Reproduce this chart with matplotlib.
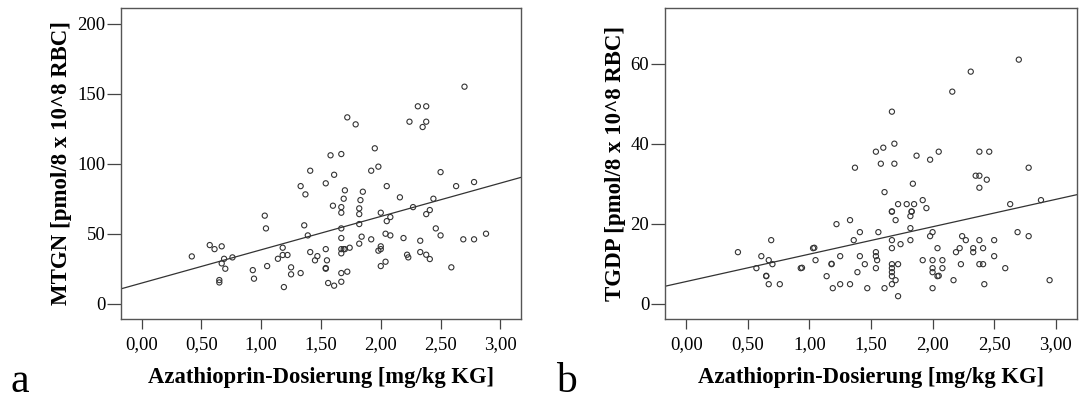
import numpy as np
import matplotlib
matplotlib.use("Agg")
import matplotlib.pyplot as plt
from matplotlib.ticker import FuncFormatter

plt.rcParams['font.family'] = ['Liberation Serif', 'DejaVu Serif']

# dose [mg/kg KG] vs MTGN (panel a)
dose_a = [0.42, 0.57, 0.61, 0.67, 0.69, 0.67, 0.70, 0.76, 0.65, 0.65,
          0.93, 0.94, 1.03, 1.04, 1.05, 1.14, 1.18, 1.18, 1.22, 1.25,
          1.25, 1.19, 1.33, 1.33, 1.37, 1.41, 1.36, 1.39, 1.41, 1.45,
          1.47, 1.54, 1.58, 1.67, 1.61, 1.60, 1.54, 1.55, 1.54, 1.54,
          1.56, 1.61, 1.67, 1.67, 1.67, 1.67, 1.67, 1.69, 1.70, 1.67,
          1.74, 1.67, 1.72, 1.67, 1.70, 1.69, 1.85, 1.83, 1.82, 1.82,
          1.82, 1.84, 1.82, 1.92, 1.95, 1.98, 1.92, 2.00, 1.98, 2.00,
          2.00, 2.00, 2.04, 2.05, 2.05, 2.08, 2.04, 2.08, 2.16, 2.19,
          2.22, 2.23, 2.27, 2.33, 2.33, 2.38, 2.41, 2.38, 2.41, 2.44,
          2.46, 2.50, 2.50, 2.59, 2.63, 2.69, 2.78, 2.78, 2.88,
          1.72, 1.79, 2.31, 2.38, 2.24, 2.38, 2.35, 2.70]
mtgn = [33.8, 41.9, 39.0, 41.0, 32.1, 28.8, 25.0, 33.1, 16.9, 15.2,
        24.0, 17.9, 62.9, 53.8, 26.9, 32.1, 40.0, 34.8, 34.8, 26.0,
        21.0, 11.9, 21.9, 84.0, 78.1, 95.0, 56.0, 48.8, 36.9, 31.0,
        34.0, 86.0, 106.0, 106.9, 92.1, 70.0, 39.0, 31.0, 25.0, 25.5,
        14.8, 12.9, 69.0, 65.0, 53.8, 46.9, 39.0, 39.0, 39.0, 36.0,
        40.0, 21.9, 22.9, 15.7, 81.0, 75.0, 80.0, 74.0, 68.1, 64.0,
        56.9, 47.9, 42.9, 95.0, 111.0, 97.9, 46.0, 65.0, 37.9, 41.0,
        39.0, 26.9, 30.0, 84.0, 59.0, 61.9, 50.0, 48.8, 76.0, 46.9,
        35.0, 33.1, 69.0, 45.0, 36.9, 35.0, 31.9, 64.0, 66.9, 75.0,
        53.8, 48.8, 94.0, 26.0, 84.0, 46.0, 86.9, 46.0, 50.0,
        133.1, 128.1, 141.0, 141.0, 130.0, 130.0, 126.2, 155.0]

# dose [mg/kg KG] vs TGDP (panel b)
dose_b = [0.42, 0.57, 0.61, 0.67, 0.70, 0.69, 0.65, 0.65, 0.67, 0.76,
          0.93, 0.94, 1.03, 1.04, 1.05, 1.14, 1.18, 1.18, 1.19, 1.22,
          1.25, 1.25, 1.33, 1.33, 1.37, 1.36, 1.41, 1.41, 1.39, 1.45,
          1.47, 1.54, 1.60, 1.58, 1.69, 1.69, 1.61, 1.56, 1.54, 1.54,
          1.55, 1.54, 1.61, 1.67, 1.67, 1.70, 1.67, 1.67, 1.67, 1.67,
          1.67, 1.67, 1.72, 1.70, 1.67, 1.72, 1.74, 1.72, 1.79, 1.85,
          1.83, 1.83, 1.82, 1.82, 1.82, 1.84, 1.87, 1.92, 1.95, 1.92,
          1.98, 2.05, 1.98, 2.00, 2.00, 2.00, 2.00, 2.00, 2.04, 2.04,
          2.05, 2.08, 2.08, 2.17, 2.19, 2.22, 2.24, 2.23, 2.27, 2.33,
          2.33, 2.35, 2.38, 2.38, 2.38, 2.38, 2.38, 2.41, 2.41, 2.42,
          2.44, 2.46, 2.50, 2.50, 2.59, 2.63, 2.69, 2.78, 2.78, 2.88,
          2.95, 1.67, 2.16, 2.31, 2.70]
tgdp = [12.9, 8.9, 11.9, 10.9, 9.9, 15.9, 6.9, 7.0, 4.9, 4.9,
        8.9, 9.0, 13.9, 14.0, 10.9, 6.9, 9.9, 10.0, 3.9, 19.9,
        11.9, 4.9, 4.9, 20.9, 34.0, 15.9, 17.9, 11.9, 7.9, 9.9,
        3.9, 38.0, 39.0, 35.0, 40.0, 35.0, 27.9, 17.9, 12.9, 11.9,
        10.9, 8.9, 3.9, 23.0, 23.1, 20.9, 15.9, 13.9, 9.9, 8.9,
        7.9, 6.9, 9.9, 5.9, 4.9, 1.9, 14.9, 24.9, 24.9, 24.9,
        23.0, 23.1, 21.9, 18.9, 15.9, 30.0, 37.0, 25.9, 23.9, 10.9,
        36.0, 38.0, 16.9, 17.9, 10.9, 8.9, 7.9, 3.9, 13.9, 6.9,
        7.0, 10.9, 8.9, 5.9, 12.9, 13.9, 16.9, 9.9, 15.9, 13.9,
        12.9, 32.0, 32.0, 38.0, 29.0, 15.9, 9.9, 9.9, 13.9, 4.9,
        31.0, 38.0, 15.9, 11.9, 8.9, 24.9, 17.9, 34.0, 16.9, 25.9,
        5.9, 48.0, 53.0, 58.0, 61.0]

x_ticks = [0.0, 0.5, 1.0, 1.5, 2.0, 2.5, 3.0]
y_ticks_a = [0, 50, 100, 150, 200]
y_ticks_b = [0, 20, 40, 60]

fig = plt.figure(figsize=(10.82, 4.01), dpi=100)
W, H = 1082, 401


def panel(left, right, x, y, ylim, yticks, ylabel, ylab_x, letter, letter_x):
    ax = fig.add_axes([left / W, 1 - 319 / H, (right - left) / W, 311 / H])
    ax.scatter(x, y, s=14, facecolors='none', edgecolors='#333333', linewidths=0.8, zorder=3)
    xlim = (-0.172, 3.17)
    # least squares fit line, drawn across the whole axis like SPSS does
    k, d = np.polyfit(x, y, 1)
    xs = np.array(xlim)
    ax.plot(xs, k * xs + d, color='#333333', lw=0.9)
    ax.set_xlim(*xlim)
    ax.set_ylim(*ylim)
    ax.set_xticks(x_ticks)
    ax.set_yticks(yticks)
    ax.xaxis.set_major_formatter(FuncFormatter(lambda v, p: f"{v:.2f}".replace('.', ',')))
    ax.tick_params(axis='x', direction='out', length=7.2, width=0.9, color='#444444',
                   labelsize=13.5, pad=5)
    ax.tick_params(axis='y', direction='out', length=9.8, width=0.9, color='#444444',
                   labelsize=13.5, pad=1.5)
    for s in ax.spines.values():
        s.set_color('#555555')
        s.set_linewidth(1.0)
    mid = (left + right) / 2
    fig.text(ylab_x / W, 1 - 163 / H, ylabel, rotation=90, ha='center', va='center',
             fontsize=16.5, fontweight='bold')
    fig.text(mid / W, 1 - 378 / H, 'Azathioprin-Dosierung [mg/kg KG]', ha='center',
             va='center', fontsize=16.3, fontweight='bold')
    fig.text(letter_x / W, 1 - 392 / H, letter, ha='left', va='baseline', fontsize=30)
    return ax


panel(121, 520.7, dose_a, mtgn, (-10.9, 211.2), y_ticks_a,
      'MTGN [pmol/8 x 10^8 RBC]', 62, 'a', 10)
panel(665, 1076.7, dose_b, tgdp, (-3.8, 73.9), y_ticks_b,
      'TGDP [pmol/8 x 10^8 RBC]', 616, 'b', 556)

fig.savefig('out.png', dpi=100)
